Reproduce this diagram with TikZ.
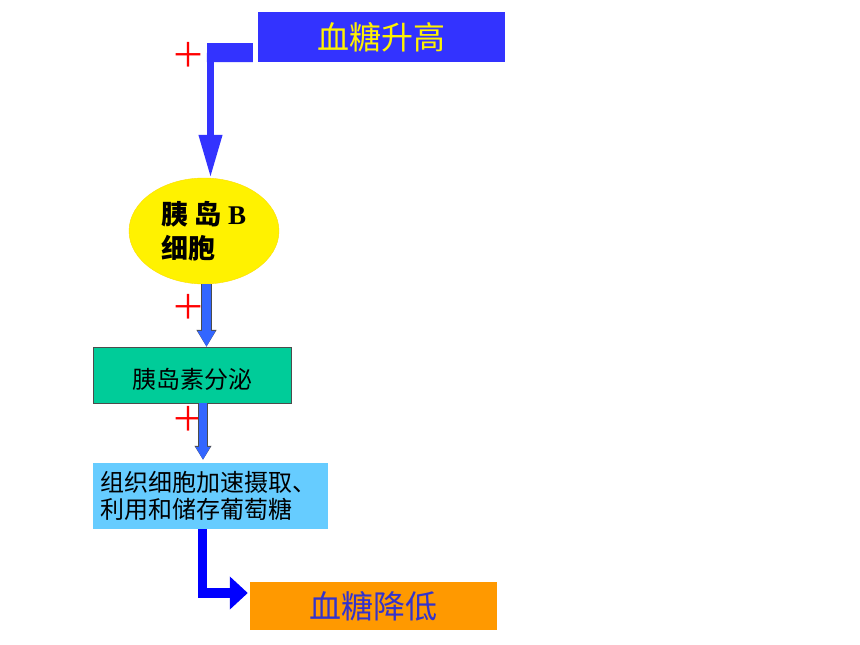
\documentclass[tikz,border=0pt]{standalone}
\usepackage{fontspec}
\setmainfont{Liberation Serif}
\newfontfamily\cjk{Noto Sans CJK SC}
\usetikzlibrary{shapes.geometric,arrows.meta,calc}
\definecolor{riseblue}{RGB}{51,51,255}
\definecolor{midblue}{RGB}{51,102,255}
\definecolor{pureblue}{RGB}{0,0,255}
\definecolor{secrgreen}{RGB}{0,204,153}
\definecolor{skyblue}{RGB}{102,204,255}
\definecolor{fallorange}{RGB}{255,153,0}
\definecolor{falltext}{RGB}{51,51,204}

\begin{document}
\begin{tikzpicture}
  [
    x=1pt, y=-1pt,
    block/.style =
      {rectangle, align=center, inner sep=0pt},
    plus/.style =
      {text=red, font=\cjk\fontsize{34}{34}\selectfont, inner sep=0pt},
    shaft/.style =
      {line join=miter, line cap=butt}
  ]
  \fill[white] (0,0) rectangle (860,645);
  \useasboundingbox (0,0) rectangle (860,645);

  \node [block, fill=riseblue, minimum width=247pt, minimum height=50pt, text=yellow,
         font=\cjk\fontsize{32}{32}\selectfont] at (381.5,37) (rise) {血糖升高};
  \node [ellipse, draw=yellow!80!orange, fill=yellow, minimum width=150pt, minimum height=106pt,
         inner sep=0pt, align=left, font=\cjk\bfseries\fontsize{27}{34}\selectfont]
         at (204,231) (cell) {胰 岛 {\rmfamily\bfseries B}\\细胞};
  \node [block, draw=black!70, fill=secrgreen, minimum width=198pt, minimum height=56pt,
         font=\cjk\fontsize{24}{24}\selectfont] at (192,375) (secr)
         {\raisebox{-13pt}[0pt][0pt]{胰岛素分泌}};
  \node [block, fill=skyblue, minimum width=235pt, minimum height=66pt, text width=220pt,
         inner xsep=7.5pt, align=left, font=\cjk\fontsize{24}{27}\selectfont]
         at (210.5,496) (uptake) {组织细胞加速摄取、\\利用和储存葡萄糖};
  \node [block, fill=fallorange, minimum width=247pt, minimum height=48pt, text=falltext,
         font=\cjk\fontsize{32}{32}\selectfont] at (373.5,606) (fall) {血糖降低};

  \node [plus] at (188,55)  (plusA) {＋};
  \node [plus] at (188,307) (plusB) {＋};
  \node [plus] at (188,419) (plusC) {＋};

  \coordinate (k1) at (210.5,52.5);
  \draw[shaft, riseblue, line width=19pt] ($(rise.south west)+(-5,-9.5)$) -- ($(k1)+(-3.5,0)$);
  \draw[shaft, riseblue, line width=7pt, -{Triangle[length=43pt,width=22pt]}]
    ($(k1)+(0,-9.5)$) -- (k1 |- cell.north);
  \draw[shaft, midblue, line width=9pt, -{Triangle[length=16pt,width=17pt]},
        preaction={draw=black!70, line width=10.5pt, -{Triangle[length=17pt,width=19pt]}}]
    ($(cell.south)+(2.5,0)$) -- ($(cell.south |- secr.north)+(2.5,0)$);
  \draw[shaft, midblue, line width=8pt, -{Triangle[length=13pt,width=14pt]},
        preaction={draw=black!70, line width=9.5pt, -{Triangle[length=14pt,width=16pt]}}]
    ($(secr.south)+(11,0)$) -- ($(secr.south |- uptake.north)+(11,-3)$);
  \draw[shaft, pureblue, line width=9.5pt, -{Triangle[length=18pt,width=32pt]}]
    ($(uptake.south)+(-8,0)$) |- ($(fall.west)+(-2,-13)$);

\end{tikzpicture}
\end{document}
